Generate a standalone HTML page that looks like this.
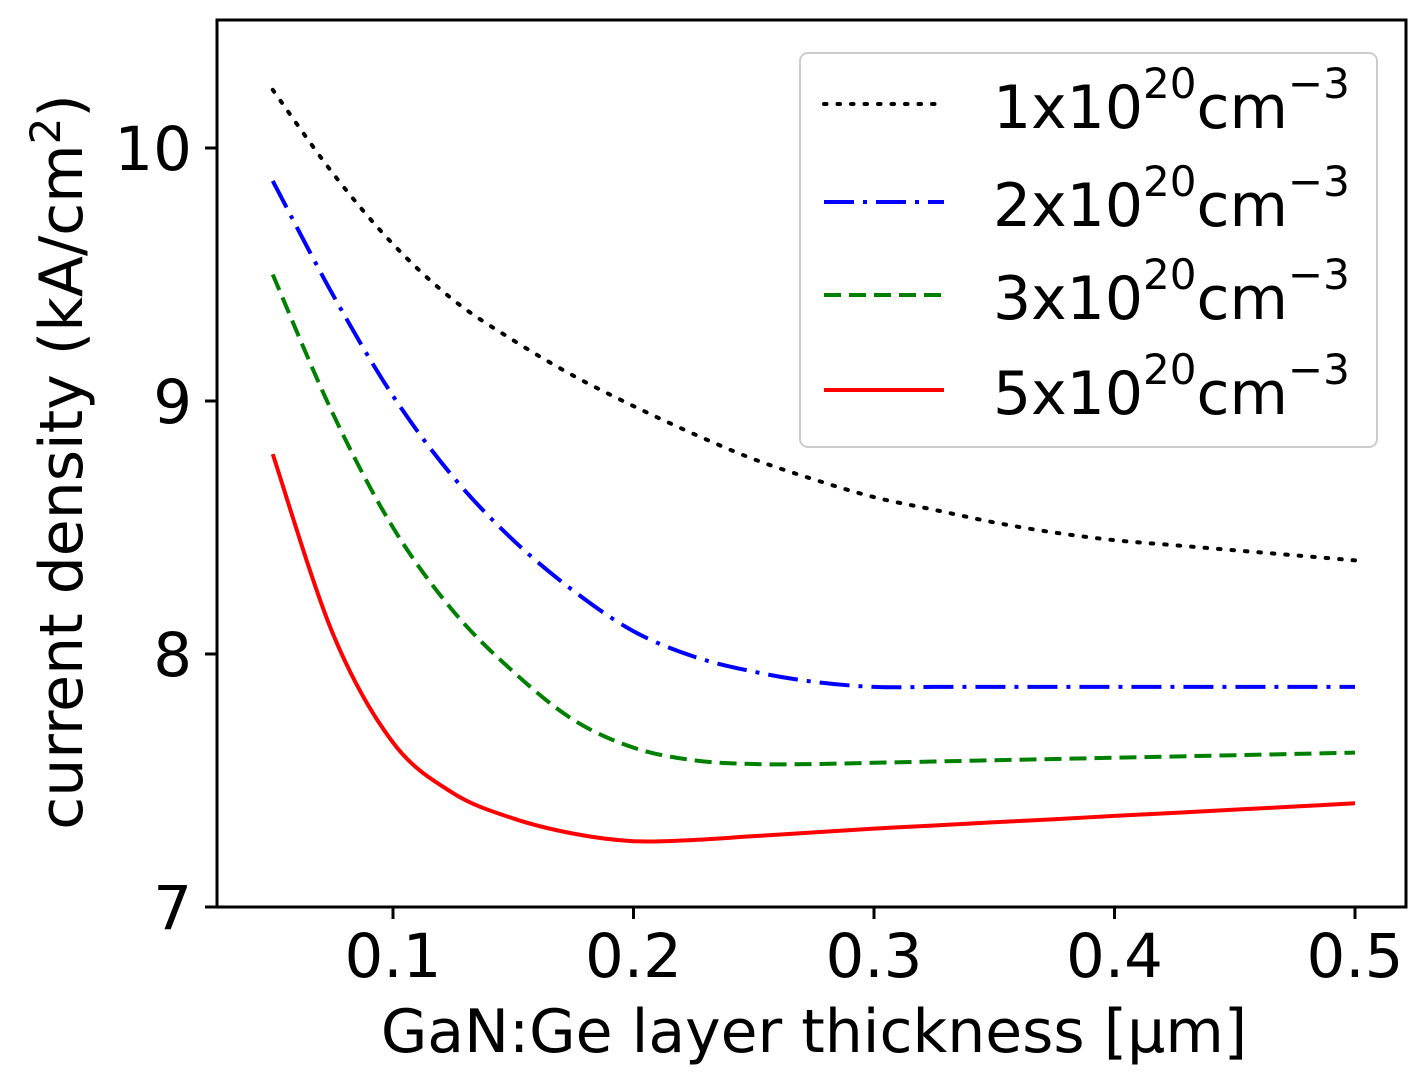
<!DOCTYPE html>
<html><head><meta charset="utf-8"><style>
body{margin:0;background:#fff;}
svg{display:block;font-family:"DejaVu Sans","Liberation Sans",sans-serif;}
</style></head><body>
<svg id="chart" width="1420" height="1083" viewBox="0 0 1420 1083" xmlns="http://www.w3.org/2000/svg">
</svg>
<script>
const xTicks=[0.1,0.2,0.3,0.4,0.5];
const yTicks=[7,8,9,10];
const xs=[0.05,0.075,0.1,0.125,0.15,0.175,0.2,0.225,0.25,0.275,0.3,0.325,0.35,0.375,0.4,0.425,0.45,0.475,0.5];
const s1=[10.23,9.9,9.62,9.4,9.24,9.1,8.98,8.87,8.77,8.69,8.62,8.57,8.52,8.48,8.45,8.43,8.41,8.39,8.37];
const s2=[9.87,9.42,9.02,8.7,8.45,8.25,8.09,7.99,7.93,7.89,7.87,7.87,7.87,7.87,7.87,7.87,7.87,7.87,7.87];
const s3=[9.5,8.95,8.5,8.17,7.93,7.74,7.63,7.58,7.565,7.565,7.57,7.575,7.58,7.585,7.59,7.595,7.6,7.605,7.61];
const s4=[8.79,8.08,7.65,7.45,7.35,7.29,7.26,7.265,7.28,7.295,7.31,7.322,7.335,7.347,7.36,7.372,7.385,7.397,7.41];
const labels=["1x10","2x10","3x10","5x10"];
const NS="http://www.w3.org/2000/svg";
const L=217,R=1406,T=20,B=907;
const X=v=>393+(v-0.1)*2405;
const Y=v=>907-(v-7)*253;
const svg=document.getElementById('chart');
function mk(t,a,p){const e=document.createElementNS(NS,t);for(const k in a)e.setAttribute(k,a[k]);(p||svg).appendChild(e);return e;}
function path(ys){
  const p=xs.map((x,i)=>[X(x),Y(ys[i])]);
  let d="M"+p[0][0]+","+p[0][1];
  for(let i=0;i<p.length-1;i++){
    const p0=p[Math.max(0,i-1)],p1=p[i],p2=p[i+1],p3=p[Math.min(p.length-1,i+2)];
    d+=" C"+(p1[0]+(p2[0]-p0[0])/6)+","+(p1[1]+(p2[1]-p0[1])/6)+" "+(p2[0]-(p3[0]-p1[0])/6)+","+(p2[1]-(p3[1]-p1[1])/6)+" "+p2[0]+","+p2[1];
  }
  return d;
}
const styles=[
 {c:"#000",da:"2.5 11",lc:"round",n:"series-1e20"},
 {c:"#0000ff",da:"30 9 4 9",lc:"butt",n:"series-2e20"},
 {c:"#008000",da:"17 8",lc:"butt",n:"series-3e20"},
 {c:"#ff0000",da:"",lc:"butt",n:"series-5e20"}];
const series=[s1,s2,s3,s4];
series.forEach((s,i)=>{
  const st=styles[i];
  const e=mk('path',{d:path(s),fill:"none",stroke:st.c,"stroke-width":4,"stroke-dasharray":st.da,"stroke-linecap":st.lc});
  
  
});
const fr=mk('rect',{x:L,y:T,width:R-L,height:B-T,fill:"none",stroke:"#000","stroke-width":3});


xTicks.forEach(v=>{
  mk('line',{x1:X(v),x2:X(v),y1:B,y2:B+12,stroke:"#000","stroke-width":3});
  const t=mk('text',{x:X(v),y:977,"text-anchor":"middle","font-size":61});
  t.textContent=v.toFixed(1);
  
  
});
yTicks.forEach(v=>{
  mk('line',{x1:L-12,x2:L,y1:Y(v),y2:Y(v),stroke:"#000","stroke-width":3});
  const t=mk('text',{x:192,y:Y(v)+22,"text-anchor":"end","font-size":61});
  t.textContent=v;
  
  
});
const xt=mk('text',{x:814,y:1052,"text-anchor":"middle","font-size":60});
xt.textContent="GaN:Ge layer thickness [\u03bcm]";


const yt=mk('text',{x:0,y:0,"text-anchor":"middle","font-size":60,transform:"translate(82,462) rotate(-90)"});
yt.innerHTML='current density (kA/cm<tspan dy="-22" font-size="42">2</tspan><tspan dy="22">)</tspan>';


const lg=mk('g',{});


mk('rect',{x:800,y:53,width:577,height:394,rx:8,fill:"#fff",stroke:"#ccc","stroke-width":2},lg);
const ly=[104,202,295,390];
labels.forEach((lb,i)=>{
  const st=styles[i];
  const g=mk('g',{},lg);
  
  
  mk('line',{x1:824,x2:944,y1:ly[i],y2:ly[i],stroke:st.c,"stroke-width":4,"stroke-dasharray":st.da,"stroke-linecap":st.lc},g);
  const t=mk('text',{x:993,y:ly[i]+24,"font-size":60},g);
  t.innerHTML=lb+'<tspan dy="-30" font-size="42">20</tspan><tspan dy="30">cm</tspan><tspan dy="-30" font-size="42">\u22123</tspan>';
});
</script>
</body></html>
